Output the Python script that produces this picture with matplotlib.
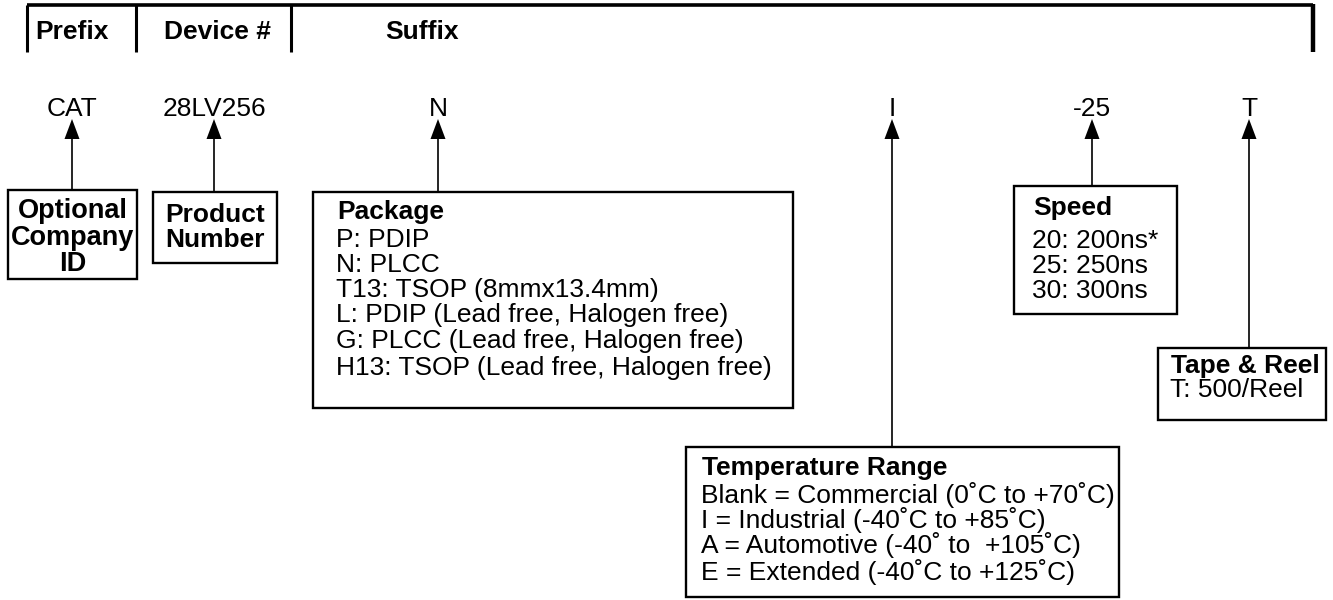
import matplotlib
matplotlib.use("Agg")
import matplotlib.pyplot as plt
from matplotlib.patches import Rectangle

plt.rcParams['font.family'] = ['Liberation Sans', 'DejaVu Sans']

# ordering information text
header = ["Prefix", "Device #", "Suffix"]
codes = ["CAT", "28LV256", "N", "I", "-25", "T"]

company_lines = ["Optional", "Company", "ID"]
product_lines = ["Product", "Number"]

package_title = "Package"
package_opts = ["P: PDIP", "N: PLCC", "T13: TSOP (8mmx13.4mm)",
                "L: PDIP (Lead free, Halogen free)",
                "G: PLCC (Lead free, Halogen free)",
                "H13: TSOP (Lead free, Halogen free)"]

temp_title = "Temperature Range"
temp_opts = ["Blank = Commercial (0˚C to +70˚C)",
             "I = Industrial (-40˚C to +85˚C)",
             "A = Automotive (-40˚ to  +105˚C)",
             "E = Extended (-40˚C to +125˚C)"]

speed_title = "Speed"
speed_opts = ["20: 200ns*", "25: 250ns", "30: 300ns"]

reel_title = "Tape & Reel"
reel_opts = ["T: 500/Reel"]

# layout (pixel coords, y down)
W, H = 1333, 600
FS = 19
code_x = [72, 214, 438, 892, 1092, 1249]
code_base = 116
tip_y, head_y, head_w = 119, 139, 7.5

# boxes: x0, y0, x1, y1
boxes = [(8, 190, 137, 279), (153, 192, 277, 263), (313, 192, 793, 408),
         (686, 447, 1119, 597), (1014, 186, 1177, 314), (1158, 348, 1326, 420)]

fig = plt.figure(figsize=(W / 100, H / 100), dpi=100)
ax = fig.add_axes([0, 0, 1, 1])
ax.set_xlim(0, W)
ax.set_ylim(H, 0)
ax.axis('off')

# header bracket
ax.plot([27, 1313], [5, 5], color='black', lw=2.6, solid_capstyle='butt')
for x in [27, 136, 291]:
    ax.plot([x, x], [5, 52], color='black', lw=2.2, solid_capstyle='butt')
ax.plot([1313, 1313], [4, 52], color='black', lw=3.2, solid_capstyle='butt')
ax.text(35, 39, header[0], fontsize=FS, fontweight='bold', ha='left', va='baseline')
ax.text(217, 39, header[1], fontsize=FS, fontweight='bold', ha='center', va='baseline')
ax.text(422, 39, header[2], fontsize=FS, fontweight='bold', ha='center', va='baseline')

# codes, arrows and leader lines
for x, code, box in zip(code_x, codes, boxes):
    ax.text(x, code_base, code, fontsize=FS, ha='center', va='baseline')
    ax.fill([x, x - head_w, x + head_w], [tip_y, head_y, head_y], color='black', lw=0)
    ax.plot([x, x], [head_y, box[1]], color='black', lw=1.2)

for x0, y0, x1, y1 in boxes:
    ax.add_patch(Rectangle((x0, y0), x1 - x0, y1 - y0, fill=False,
                           edgecolor='black', lw=1.7))

# centered bold boxes
for line, yb in zip(company_lines, [218, 245, 271]):
    ax.text(72.5, yb, line, fontsize=FS + 0.5, fontweight='bold', ha='center', va='baseline')
for line, yb in zip(product_lines, [222, 247]):
    ax.text(215, yb, line, fontsize=FS, fontweight='bold', ha='center', va='baseline')


def option_block(x, title_y, title, ys, opts):
    ax.text(x, title_y, title, fontsize=FS, fontweight='bold', ha='left', va='baseline')
    for yb, s in zip(ys, opts):
        ax.text(x - 1, yb, s, fontsize=FS, ha='left', va='baseline')


option_block(337, 219, package_title, [247, 272, 297, 322, 348, 375], package_opts)
option_block(702, 475, temp_title, [503, 528, 553, 580], temp_opts)
option_block(1033, 215, speed_title, [248, 273, 298], speed_opts)
option_block(1171, 373, reel_title, [397], reel_opts)

fig.savefig("out.png", dpi=100)
